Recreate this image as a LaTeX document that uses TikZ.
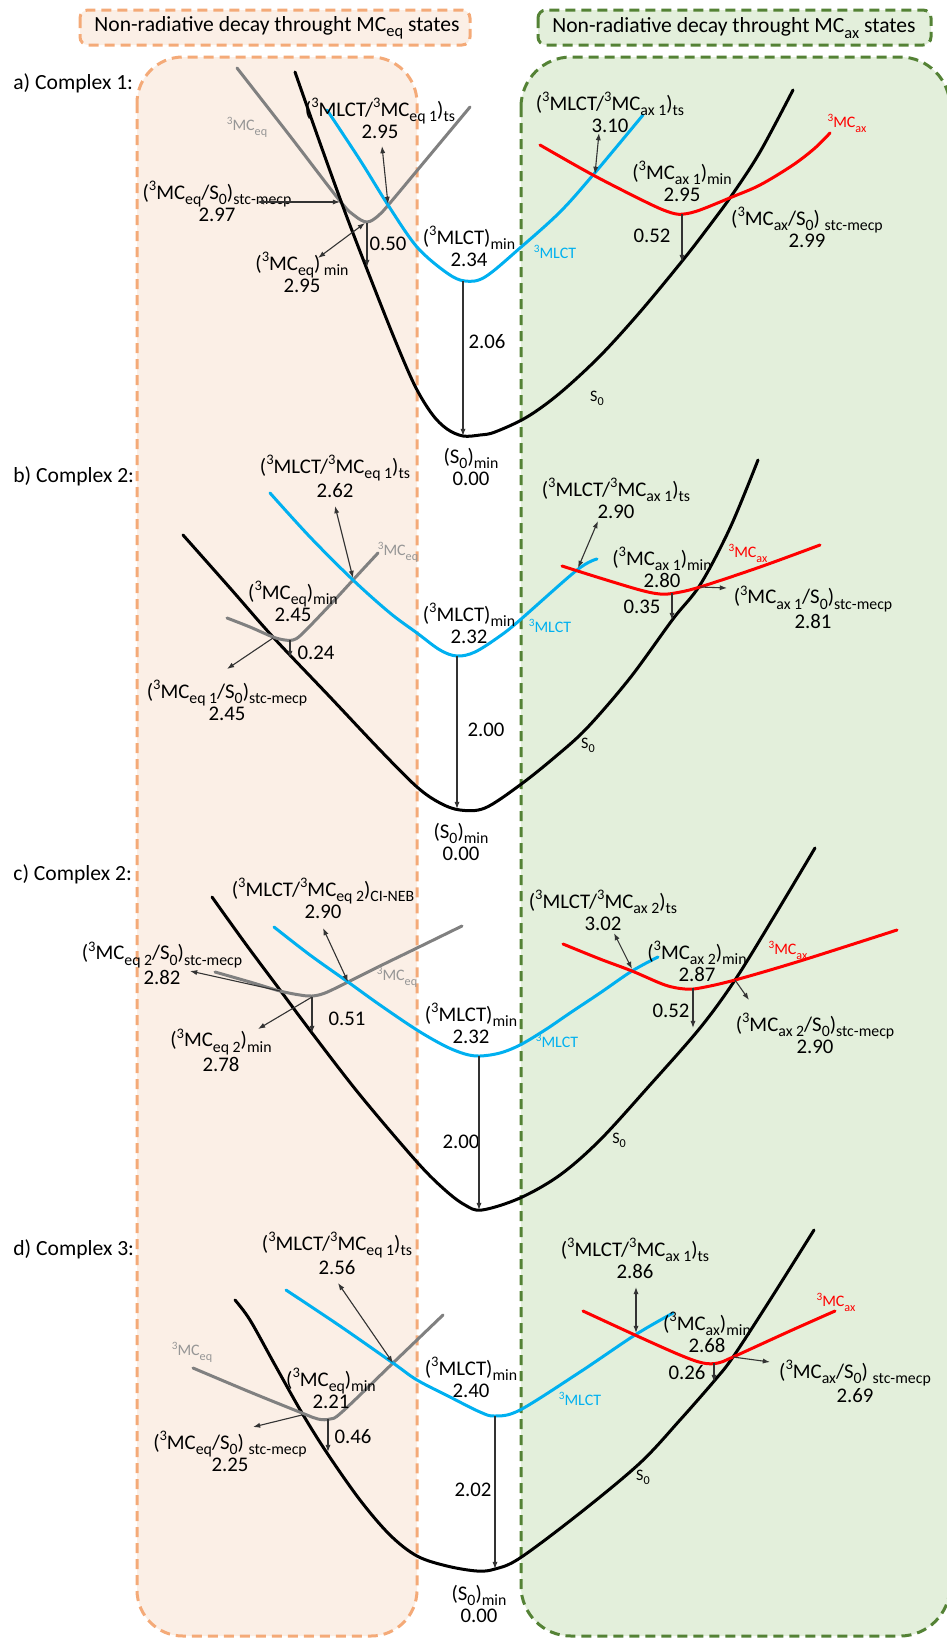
\documentclass[tikz,border=0pt]{standalone}
\usepackage{fontspec}
\usepackage{graphicx}
\setmainfont{Carlito}
\usetikzlibrary{arrows.meta}
\definecolor{orEdge}{RGB}{244,170,120}
\definecolor{orFill}{RGB}{251,239,230}
\definecolor{grEdge}{RGB}{84,130,53}
\definecolor{grFill}{RGB}{227,239,219}
\definecolor{mlct}{RGB}{0,176,240}
\definecolor{mcax}{RGB}{255,0,0}
\definecolor{mceq}{RGB}{128,128,128}
\definecolor{mceqlab}{RGB}{150,150,150}
\newcommand{\mysup}[1]{\raisebox{0.42em}{\scalebox{0.7}{#1}}}
\newcommand{\mysub}[1]{\raisebox{-0.26em}{\scalebox{0.76}{#1}}}
\newcommand{\mylink}[4]{\coordinate (#1s) at #3; \coordinate (#1e) at #4; \draw[#2] (#1s) -- (#1e);}
\begin{document}
\begin{tikzpicture}[x=0.5pt,y=-0.5pt,
  lab/.style={font=\fontsize{10.4}{11}\selectfont, align=center, inner sep=0pt},
  val/.style={font=\fontsize{10.4}{11}\selectfont, inner sep=0pt},
  small/.style={font=\fontsize{8}{9}\selectfont, inner sep=0pt},
  panel/.style={font=\fontsize{10.8}{12}\selectfont, anchor=west, inner sep=0pt},
  head/.style={font=\fontsize{10.8}{12}\selectfont, inner sep=0pt},
  boxedge/.style={line width=1.5pt, dash pattern=on 5pt off 3pt},
  curve/.style={line width=1.5pt, line join=round, line cap=round},
  s0c/.style={curve, black},
  mlctc/.style={curve, mlct},
  eqc/.style={curve, mceq},
  axc/.style={curve, mcax},
  arr/.style={draw=black!80, line width=0.55pt, -{Latex[length=3.6pt,width=2.6pt]}},
  darr/.style={draw=black!80, line width=0.55pt, {Latex[length=3.6pt,width=2.6pt]}-{Latex[length=3.6pt,width=2.6pt]}},
  sm/.style={smooth, tension=0.55}]
\useasboundingbox (0,0) rectangle (947,1639);
\begin{scope}
\clip (0,0) rectangle (947,1639);
% main boxes
\fill[orFill, rounded corners=23pt] (137,57) rectangle (417,1636);
\draw[orEdge, boxedge, rounded corners=23pt] (137,57) rectangle (417,1636);
\fill[grFill, rounded corners=25pt] (521,57) rectangle (950,1636);
\draw[grEdge, boxedge, rounded corners=25pt] (521,57) rectangle (950,1636);
% header boxes
\fill[orFill, rounded corners=4pt] (80,10) rectangle (470,45);
\draw[orEdge, boxedge, rounded corners=4pt] (80,10) rectangle (470,45);
\fill[grFill, rounded corners=4pt] (538,10) rectangle (931,45);
\draw[grEdge, boxedge, rounded corners=4pt] (538,10) rectangle (931,45);
\end{scope}
\node[head] (hEq) at (277,28) {Non-radiative decay throught MC\mysub{eq} states};
\node[head] (hAx) at (734,28) {Non-radiative decay throught MC\mysub{ax} states};

% ================= panel a =================
\node[panel] (pa) at (13,83) {a) Complex 1:};
\draw[eqc] plot[sm] coordinates {(237,68) (290,136) (340,201) (355,216) (367,222) (378,216) (390,203) (430,155) (470,107)};
\draw[s0c] plot[sm] coordinates {(295,72) (320,143) (345,212) (370,277) (395,340) (415,386) (432,414) (447,429) (463,436) (480,435) (495,432) (527,417) (560,393) (600,356) (640,312) (683,260) (710,225) (732,195) (760,152) (793,90)};
\draw[mlctc] plot[sm] coordinates {(327,110) (360,160) (388,205) (417,247) (447,273) (465,281) (485,277) (520,248) (560,212) (593,175) (643,115)};
\draw[axc] plot[sm] coordinates {(540,145) (593,175) (650,204) (672,213) (684,214) (700,210) (732,197) (760,185) (793,165) (815,148) (830,133)};
\node[small, text=mceqlab] (aEqL) at (247,127) {\mysup{3}MC\mysub{eq}};
\node[small, text=mlct] (aMlL) at (555,252) {\mysup{3}MLCT};
\node[small] (aS0L) at (597,398) {S\mysub{0}};
\node[small, text=mcax] (aAxL) at (847,123) {\mysup{3}MC\mysub{ax}};
\node[lab] (aTsEq) at (380,118) {(\mysup{3}MLCT/\mysup{3}MC\mysub{eq 1})\mysub{ts}\\2.95};
\node[lab] (aMecpEq) at (217,201) {(\mysup{3}MC\mysub{eq}/S\mysub{0})\mysub{stc-mecp}\\2.97};
\node[lab] (aMinEq) at (302,272) {(\mysup{3}MC\mysub{eq})\,\mysub{min}\\2.95};
\node[val] (aBarEq) at (388,244) {0.50};
\node[lab] (aMl) at (469,246) {(\mysup{3}MLCT)\mysub{min}\\2.34};
\node[val] (aGap) at (487,342) {2.06};
\node[lab] (aS0) at (471,467) {(S\mysub{0})\mysub{min}\\0.00};
\node[lab] (aTsAx) at (610,112) {(\mysup{3}MLCT/\mysup{3}MC\mysub{ax 1})\mysub{ts}\\3.10};
\node[lab] (aMinAx) at (682,181) {(\mysup{3}MC\mysub{ax 1})\mysub{min}\\2.95};
\node[lab] (aMecpAx) at (807,227) {(\mysup{3}MC\mysub{ax}/S\mysub{0}) \mysub{stc-mecp}\\2.99};
\node[val] (aBarAx) at (652,236) {0.52};
\mylink{a1}{darr}{(388,204)}{(382,146)}
\mylink{a2}{darr}{(340,202)}{(257,202)}
\mylink{a3}{darr}{(365,223)}{(318,258)}
\mylink{a4}{arr}{(367,223)}{(367,267)}
\mylink{a5}{arr}{(463,281)}{(463,436)}
\mylink{a6}{darr}{(595,174)}{(599,133)}
\mylink{a7}{arr}{(682,214)}{(682,262)}

% ================= panel b =================
\node[panel] (pb) at (13,476) {b) Complex 2:};
\draw[s0c] plot[sm] coordinates {(183,535) (230,588) (273,637) (330,697) (380,750) (417,787) (440,803) (460,810) (485,808) (520,785) (555,757) (587,728) (630,678) (673,619) (700,585) (730,528) (758,460)};
\draw[eqc] plot[sm] coordinates {(227,618) (250,627) (273,637) (285,640) (293,640) (302,634) (330,605) (353,580) (365,567) (378,553)};
\draw[mlctc] plot[sm] coordinates {(270,493) (310,537) (353,580) (390,613) (417,633) (440,650) (457,656) (475,652) (500,636) (520,620) (577,570) (597,559)};
\draw[axc] plot[sm] coordinates {(562,566) (600,578) (640,590) (660,594) (675,593) (700,587) (760,567) (820,545)};
\node[small, text=mceqlab] (bEqL) at (398,552) {\mysup{3}MC\mysub{eq}};
\node[small, text=mlct] (bMlL) at (550,626) {\mysup{3}MLCT};
\node[small] (bS0L) at (588,745) {S\mysub{0}};
\node[small, text=mcax] (bAxL) at (748,553) {\mysup{3}MC\mysub{ax}};
\node[lab] (bTsEq) at (335,476) {(\mysup{3}MLCT/\mysup{3}MC\mysub{eq 1})\mysub{ts}\\2.62};
\node[lab] (bMinEq) at (293,601) {(\mysup{3}MC\mysub{eq})\mysub{min}\\2.45};
\node[lab] (bMecpEq) at (227,700) {(\mysup{3}MC\mysub{eq 1}/S\mysub{0})\mysub{stc-mecp}\\2.45};
\node[val] (bBarEq) at (316,653) {0.24};
\node[lab] (bMl) at (469,623) {(\mysup{3}MLCT)\mysub{min}\\2.32};
\node[val] (bGap) at (486,730) {2.00};
\node[lab] (bS0) at (461,842) {(S\mysub{0})\mysub{min}\\0.00};
\node[lab] (bTsAx) at (616,498) {(\mysup{3}MLCT/\mysup{3}MC\mysub{ax 1})\mysub{ts}\\2.90};
\node[lab] (bMinAx) at (662,567) {(\mysup{3}MC\mysub{ax 1})\mysub{min}\\2.80};
\node[lab] (bMecpAx) at (813,607) {(\mysup{3}MC\mysub{ax 1}/S\mysub{0})\mysub{stc-mecp}\\2.81};
\node[val] (bBarAx) at (642,607) {0.35};
\mylink{b1}{darr}{(353,578)}{(335,506)}
\mylink{b2}{arr}{(273,638)}{(227,669)}
\mylink{b3}{arr}{(290,640)}{(290,658)}
\mylink{b4}{arr}{(457,656)}{(457,809)}
\mylink{b5}{darr}{(578,568)}{(598,521)}
\mylink{b6}{arr}{(700,587)}{(727,588)}
\mylink{b7}{arr}{(672,593)}{(672,620)}

% ================= panel c =================
\node[panel] (pc) at (13,874) {c) Complex 2:};
\draw[s0c] plot[sm] coordinates {(212,897) (245,943) (280,990) (312,1033) (360,1095) (417,1162) (445,1190) (465,1205) (482,1210) (520,1198) (560,1175) (600,1140) (650,1085) (700,1028) (735,980) (775,915) (815,848)};
\draw[eqc] plot[sm] coordinates {(215,972) (250,982) (280,991) (300,995) (312,996) (325,993) (348,982) (380,966) (417,948) (462,926)};
\draw[mlctc] plot[sm] coordinates {(274,927) (310,955) (348,982) (380,1005) (417,1030) (445,1046) (465,1054) (480,1056) (500,1053) (520,1045) (545,1030) (570,1013) (600,993) (632,971) (658,957)};
\draw[axc] plot[sm] coordinates {(563,944) (600,959) (632,971) (665,985) (685,989) (700,988) (735,980) (800,961) (897,930)};
\node[small, text=mceqlab] (cEqL) at (397,977) {\mysup{3}MC\mysub{eq}};
\node[small, text=mlct] (cMlL) at (557,1041) {\mysup{3}MLCT};
\node[small] (cS0L) at (619,1140) {S\mysub{0}};
\node[small, text=mcax] (cAxL) at (788,950) {\mysup{3}MC\mysub{ax}};
\node[lab] (cTsEq) at (323,898) {(\mysup{3}MLCT/\mysup{3}MC\mysub{eq 2})\mysub{CI-NEB}\\2.90};
\node[lab] (cMecpEq) at (162,963) {(\mysup{3}MC\mysub{eq 2}/S\mysub{0})\mysub{stc-mecp}\\2.82};
\node[lab] (cMinEq) at (221,1050) {(\mysup{3}MC\mysub{eq 2})\mysub{min}\\2.78};
\node[val] (cBarEq) at (347,1019) {0.51};
\node[lab] (cMl) at (471,1023) {(\mysup{3}MLCT)\mysub{min}\\2.32};
\node[val] (cGap) at (461,1142) {2.00};
\node[lab] (cTsAx) at (603,910) {(\mysup{3}MLCT/\mysup{3}MC\mysub{ax 2})\mysub{ts}\\3.02};
\node[lab] (cMinAx) at (697,961) {(\mysup{3}MC\mysub{ax 2})\mysub{min}\\2.87};
\node[lab] (cMecpAx) at (815,1033) {(\mysup{3}MC\mysub{ax 2}/S\mysub{0})\mysub{stc-mecp}\\2.90};
\node[val] (cBarAx) at (671,1011) {0.52};
\mylink{c1}{darr}{(348,982)}{(323,928)}
\mylink{c2}{arr}{(280,991)}{(190,971)}
\mylink{c3}{arr}{(312,997)}{(258,1029)}
\mylink{c4}{arr}{(312,997)}{(312,1033)}
\mylink{c5}{arr}{(479,1056)}{(479,1210)}
\mylink{c6}{darr}{(632,969)}{(614,933)}
\mylink{c7}{arr}{(735,980)}{(749,1000)}
\mylink{c8}{arr}{(693,988)}{(693,1028)}

% ================= panel d =================
\node[panel] (pd) at (13,1249) {d) Complex 3:};
\draw[s0c] plot[sm] coordinates {(235,1300) (250,1320) (275,1365) (302,1413) (327,1453) (360,1500) (390,1535) (417,1556) (447,1566) (477,1571) (495,1569) (520,1558) (580,1513) (640,1463) (680,1420) (715,1380) (733,1357) (770,1300) (814,1230)};
\draw[eqc] plot[sm] coordinates {(193,1368) (250,1392) (302,1413) (318,1419) (330,1419) (342,1412) (393,1363) (443,1315)};
\draw[mlctc] plot[sm] coordinates {(286,1290) (340,1326) (393,1363) (417,1380) (450,1397) (480,1412) (495,1416) (520,1410) (580,1372) (635,1335) (673,1313)};
\draw[axc] plot[sm] coordinates {(583,1311) (635,1335) (680,1355) (703,1363) (718,1363) (733,1357) (790,1331) (835,1311)};
\node[small, text=mceqlab] (dEqL) at (192,1352) {\mysup{3}MC\mysub{eq}};
\node[small, text=mlct] (dMlL) at (580,1399) {\mysup{3}MLCT};
\node[small] (dS0L) at (643,1477) {S\mysub{0}};
\node[small, text=mcax] (dAxL) at (836,1302) {\mysup{3}MC\mysub{ax}};
\node[lab] (dTsEq) at (337,1253) {(\mysup{3}MLCT/\mysup{3}MC\mysub{eq 1})\mysub{ts}\\2.56};
\node[lab] (dMinEq) at (331,1388) {(\mysup{3}MC\mysub{eq})\mysub{min}\\2.21};
\node[lab] (dMecpEq) at (230,1451) {(\mysup{3}MC\mysub{eq}/S\mysub{0}) \mysub{stc-mecp}\\2.25};
\node[val] (dBarEq) at (353,1437) {0.46};
\node[lab] (dMl) at (471,1377) {(\mysup{3}MLCT)\mysub{min}\\2.40};
\node[val] (dGap) at (473,1490) {2.02};
\node[lab] (dS0) at (479,1604) {(S\mysub{0})\mysub{min}\\0.00};
\node[lab] (dTsAx) at (635,1258) {(\mysup{3}MLCT/\mysup{3}MC\mysub{ax 1})\mysub{ts}\\2.86};
\node[lab] (dMinAx) at (707,1332) {(\mysup{3}MC\mysub{ax})\mysub{min}\\2.68};
\node[lab] (dMecpAx) at (855,1381) {(\mysup{3}MC\mysub{ax}/S\mysub{0}) \mysub{stc-mecp}\\2.69};
\node[val] (dBarAx) at (687,1373) {0.26};
\mylink{d1}{darr}{(393,1363)}{(338,1283)}
\mylink{d2}{arr}{(302,1415)}{(253,1427)}
\mylink{d3}{arr}{(328,1419)}{(328,1452)}
\mylink{d4}{arr}{(495,1416)}{(495,1569)}
\mylink{d5}{darr}{(636,1333)}{(636,1287)}
\mylink{d6}{arr}{(733,1357)}{(770,1362)}
\mylink{d7}{arr}{(714,1363)}{(714,1382)}
\end{tikzpicture}
\end{document}
